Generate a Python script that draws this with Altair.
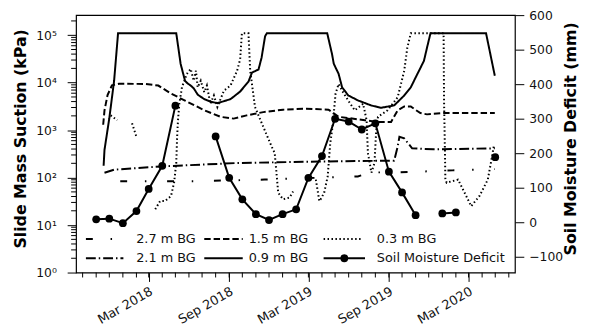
import altair as alt
import pandas as pd

# ---------------- data ----------------
d09 = ["2017-11-18","2017-11-20","2017-12-01","2017-12-12","2017-12-21","2018-05-03","2018-05-13","2018-05-23","2018-05-28","2018-06-05",
       "2018-06-12","2018-06-21","2018-07-06","2018-07-20","2018-08-05","2018-09-04","2018-09-26","2018-10-15","2018-10-23","2018-11-07",
       "2018-11-14","2018-11-22","2018-11-26","2019-04-13","2019-04-24","2019-04-28","2019-05-09","2019-05-17","2019-05-31","2019-06-23",
       "2019-07-23","2019-08-14","2019-09-13","2019-10-06","2019-10-21","2019-11-05","2019-11-20","2019-11-27","2019-12-05","2020-04-10","2020-04-30"]
v09 = [178,383,1780,11000,110000,110000,24900,11000,9800,8700,
       7600,5600,4500,4000,3700,4500,6500,10500,16300,19000,
       33700,95000,110000,110000,40000,25000,15400,8000,5400,4200,
       3300,2960,3320,5370,8000,15200,28700,54300,110000,110000,14000]

d15 = ["2017-11-17","2017-11-20","2017-11-27","2017-12-07","2017-12-23","2018-02-22","2018-03-23","2018-04-21","2018-05-23","2018-07-06",
       "2018-08-12","2018-09-11","2018-10-11","2018-11-18","2019-01-02","2019-02-24","2019-04-16","2019-05-09","2019-07-08","2019-08-06",
       "2019-09-06","2019-09-21","2019-10-06","2019-10-21","2019-10-28","2019-11-12","2019-11-27","2020-01-04","2020-04-30"]
v15 = [1300,2600,5500,8800,9500,9400,8700,5900,4200,2620,
       1910,1750,2050,2400,2700,2830,2700,1910,1620,1490,
       1490,2620,3160,3160,2830,2290,2150,2290,2290]

d21 = ["2017-11-20","2017-12-12","2018-03-30","2018-09-19","2019-03-24","2019-09-13","2019-09-21","2019-09-25","2019-10-06","2019-10-24","2019-12-12","2020-04-30"]
v21 = [127,147,172,203,218,228,448,725,670,414,395,414]

d27 = ["2017-12-26","2018-06-13","2018-11-21","2019-06-22","2019-07-23","2019-09-26","2020-01-24","2020-04-30"]
v27 = [84,84,91,106,129,129,142,151]

d03 = ["2017-12-04","2017-12-19","2018-01-05","2018-01-22","2018-02-02","2018-03-01","2018-03-16","2018-03-27","2018-04-07","2018-04-21",
       "2018-04-28","2018-05-03","2018-05-05","2018-05-07","2018-05-10","2018-05-16","2018-05-27","2018-06-05","2018-06-12","2018-06-17",
       "2018-06-21","2018-06-28","2018-07-06","2018-07-12","2018-07-20","2018-07-28","2018-08-05","2018-08-20","2018-09-04","2018-09-19",
       "2018-09-26","2018-09-30","2018-10-15","2018-10-19","2018-10-30","2018-11-18","2018-12-07","2018-12-14","2018-12-18","2018-12-22",
       "2019-01-02","2019-01-17","2019-01-25","2019-02-20","2019-03-18","2019-03-26","2019-03-29","2019-04-06","2019-04-14","2019-04-17",
       "2019-04-20","2019-04-25","2019-04-28","2019-05-02","2019-05-09","2019-05-17","2019-05-31","2019-06-15","2019-07-04","2019-07-12",
       "2019-07-15","2019-07-23","2019-07-30","2019-08-03","2019-08-07","2019-08-29","2019-09-21","2019-10-06","2019-10-13","2019-10-21",
       "2020-01-04","2020-01-05","2020-01-07","2020-01-08","2020-01-11","2020-02-06","2020-02-21","2020-03-07","2020-03-26","2020-04-14",
       "2020-04-25","2020-04-28"]
v03 = [2050,1620,None,1400,680,None,21.5,32,32,41,
       78,203,725,1620,3600,7980,15200,19500,11000,17800,
       7980,11000,6300,8700,3600,5370,3070,6800,8700,17800,
       31000,110000,110000,17800,3060,1170,450,330,127,48,
       35,38,51,None,91,32,35,48,105,237,
       535,1150,2250,5800,9400,6800,4200,2620,3600,1620,
       330,127,203,1000,1910,2620,4940,17800,54300,110000,
       110000,4200,380,91,78,91,48,25,41,91,
       325,490]

smd_dates = ["2017-11-01","2017-12-01","2018-01-01","2018-02-01","2018-03-01","2018-04-01","2018-05-01","2018-06-01","2018-07-01","2018-08-01",
             "2018-09-01","2018-10-01","2018-11-01","2018-12-01","2019-01-01","2019-02-01","2019-03-01","2019-04-01","2019-05-01","2019-06-01",
             "2019-07-01","2019-08-01","2019-09-01","2019-10-01","2019-11-01","2019-12-01","2020-01-01","2020-02-01","2020-03-01","2020-04-01","2020-05-01"]
smd_vals = [9,11,-2,33,97,164,338,None,None,249,
            129,67,24,7,24,38,129,192,300,292,
            269,287,147,87,21,None,26,29,None,None,189]

series_names = ["2.7 m BG", "2.1 m BG", "1.5 m BG", "0.9 m BG", "0.3 m BG"]
series_dash = [[7, 18, 1.5, 21], [10, 3, 1.5, 3], [6.5, 3], [1, 0], [1.5, 2.5]]
x_major = ["2018-03-01", "2018-09-01", "2019-03-01", "2019-09-01", "2020-03-01"]
x_labels = ["Mar 2018", "Sep 2018", "Mar 2019", "Sep 2019", "Mar 2020"]
y_major = [1, 10, 100, 1000, 10000, 100000]
smd_ticks = [-100, 0, 100, 200, 300, 400, 500, 600]

# ---------------- tables ----------------
def rows(name, dates, vals):
    out, seg = [], 0
    for d, v in zip(dates, vals):
        if v is None:
            seg += 1
            continue
        out.append({"date": d, "value": v, "series": name, "seg": f"{name}-{seg}"})
    return out

line_rows = []
for n, d, v in [("2.7 m BG", d27, v27), ("2.1 m BG", d21, v21), ("1.5 m BG", d15, v15),
                ("0.9 m BG", d09, v09), ("0.3 m BG", d03, v03)]:
    line_rows += rows(n, d, v)
lines_df = pd.DataFrame(line_rows)
smd_df = pd.DataFrame(rows("smd", smd_dates, smd_vals))

def ms(s):
    return int(pd.Timestamp(s).value // 10**6)

x_domain = [ms("2017-09-16"), ms("2020-06-15")]
month_df = pd.DataFrame({"date": pd.date_range("2017-10-01", "2020-06-01", freq="MS").strftime("%Y-%m-%d")})
minor_y = [m * 10**k for k in range(0, 6) for m in range(2, 10) if m * 10**k < 2.65e5]
minor_df = pd.DataFrame({"value": minor_y})
xlab_df = pd.DataFrame({"date": x_major, "label": x_labels})

FONT = "DejaVu Sans"
xscale = alt.Scale(type="utc", domain=x_domain, nice=False)
yscale = alt.Scale(type="log", domain=[1, 2.65e5], nice=False)

label_expr = ("datum.value == 1 ? '10⁰' : datum.value == 10 ? '10¹' : datum.value == 100 ? '10²' : "
              "datum.value == 1000 ? '10³' : datum.value == 10000 ? '10⁴' : '10⁵'")

x_axis = alt.Axis(
    values=[ms(v) for v in x_major], labels=False, tickSize=9, title=None, grid=False, domain=False,
    tickColor="black")
y_axis = alt.Axis(
    values=y_major, labelExpr=label_expr, tickSize=9, labelPadding=11, grid=False, domain=False,
    labelFontSize=12.5, labelColor="#111", tickColor="black",
    title="Slide Mass Suction (kPa)", titleFontSize=16, titleFontWeight="bold", titleColor="black",
    titleX=-56, titleY=125, titleAngle=270, titleBaseline="middle", titleAlign="center")
X = alt.X("date:T", scale=xscale, axis=x_axis)

lines = alt.Chart(lines_df).mark_line(color="black", strokeWidth=2, clip=True).encode(
    x=X,
    y=alt.Y("value:Q", scale=yscale, axis=y_axis),
    strokeDash=alt.StrokeDash("series:N", scale=alt.Scale(domain=series_names, range=series_dash), legend=None),
    detail="seg:N",
)

x_minor = alt.Chart(month_df).mark_rule(color="black", strokeWidth=1).encode(
    x=X, y=alt.value(261), y2=alt.value(266))
y_minor = alt.Chart(minor_df).mark_rule(color="black", strokeWidth=1).encode(
    y=alt.Y("value:Q", scale=yscale, axis=y_axis), x=alt.value(0), x2=alt.value(-5))
x_text = alt.Chart(xlab_df).mark_text(align="right", baseline="top", angle=330, fontSize=13,
                                      font=FONT, color="#111").encode(
    x=X, y=alt.value(274), text="label:N")

left = alt.layer(lines, x_minor, y_minor, x_text)

smd_y = alt.Y("value:Q", scale=alt.Scale(domain=[-145, 600], nice=False), axis=alt.Axis(
    orient="right", values=smd_ticks, tickSize=9, labelPadding=5, grid=False, domain=False,
    labelFontSize=12.5, labelColor="#111", tickColor="black",
    title="Soil Moisture Deficit (mm)", titleFontSize=16, titleFontWeight="bold", titleColor="black",
    titleX=56, titleY=125, titleAngle=270, titleBaseline="middle", titleAlign="center"))
smd_line = alt.Chart(smd_df).mark_line(color="black", strokeWidth=2).encode(
    x=X, y=smd_y, detail="seg:N")
smd_pts = alt.Chart(smd_df).mark_circle(color="black", size=62, opacity=1).encode(
    x=X, y=smd_y)
right = alt.layer(smd_line, smd_pts)

# ---------------- legend (drawn by hand) ----------------
one = pd.DataFrame({"k": [0]})
leg = []
rows_y = [227, 246.5]
handles = [
    (10, 48, rows_y[0], series_dash[0], "2.7 m BG", 61),
    (130, 169, rows_y[0], series_dash[2], "1.5 m BG", 175),
    (251, 291, rows_y[0], series_dash[4], "0.3 m BG", 305),
    (10, 48, rows_y[1], series_dash[1], "2.1 m BG", 61),
    (130, 169, rows_y[1], series_dash[3], "0.9 m BG", 175),
    (251, 293, rows_y[1], [1, 0], "Soil Moisture Deficit", 305),
]
for x1, x2, yy, dash, label, tx in handles:
    leg.append(alt.Chart(one).mark_rule(color="black", strokeWidth=2, strokeDash=dash).encode(
        x=alt.value(x1), x2=alt.value(x2), y=alt.value(yy)))
    leg.append(alt.Chart(one).mark_text(text=label, align="left", baseline="middle", fontSize=13,
                                        font=FONT, color="#111").encode(x=alt.value(tx), y=alt.value(yy)))
leg.append(alt.Chart(one).mark_circle(color="black", size=62, opacity=1).encode(
    x=alt.value(272), y=alt.value(rows_y[1])))

chart = alt.layer(left, right, *leg).resolve_scale(y="independent").properties(
    width=445, height=261,
    padding={"left": 69, "top": 5, "right": 68, "bottom": 54},
    autosize=alt.AutoSizeParams(type="none"),
).configure(font=FONT).configure_view(stroke="black", strokeWidth=1.2).configure_axis(
    labelFont=FONT, titleFont=FONT, tickWidth=1)

chart.save("out.html", embed_options={"renderer": "svg", "actions": False})
